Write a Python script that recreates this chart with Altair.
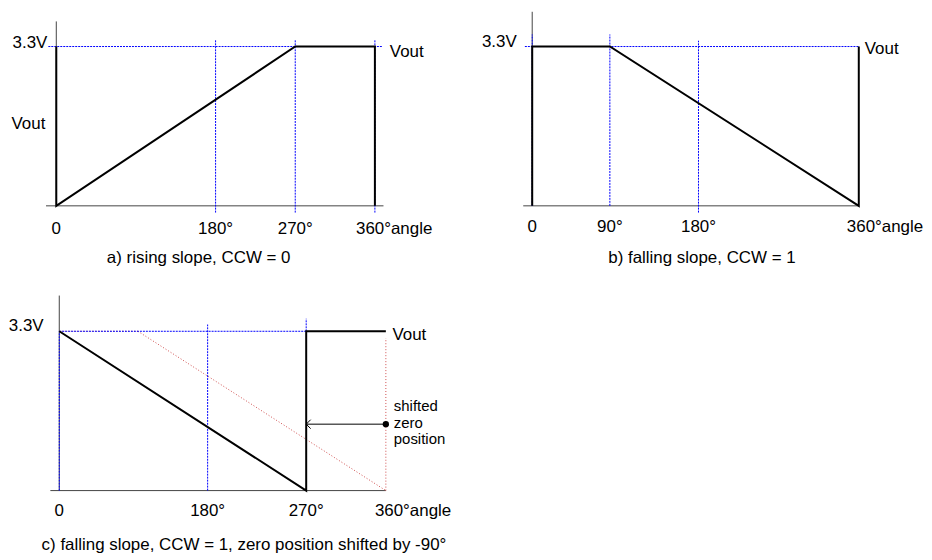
import altair as alt
import pandas as pd

FONT = "Liberation Sans"
V_MAX = 3.3
BLUE = "#0000ff"
RED = "#d05050"
AXIS_C = "#444444"

# ---------------- panel a: rising slope ----------------
A_OUT_DEG = [0, 0, 270, 360, 360]
A_OUT_V = [3.3, 0, 3.3, 3.3, 0]
A_BLUE_X1 = [-9, 180, 270, 360]
A_BLUE_X2 = [368, 180, 270, 360]
A_BLUE_Y1 = [3.3, -0.14, -0.14, -0.14]
A_BLUE_Y2 = [3.3, 3.44, 3.44, 3.44]
A_AXIS_X1 = [-11.6, 0]
A_AXIS_X2 = [369.7, 0]
A_AXIS_Y1 = [0, 0]
A_AXIS_Y2 = [0, 3.82]
A_TICKS = [0, 180, 270]
A_TICK_LABELS = ["0", "180°", "270°"]
A_VOUT_SIDE_V = 1.59
A_CAPTION = "a) rising slope, CCW = 0"

# ---------------- panel b: falling slope ----------------
B_OUT_DEG = [0, 0, 90, 360, 360]
B_OUT_V = [0, 3.3, 3.3, 0, 3.3]
B_BLUE_X1 = [-8.5, 0, 90, 180]
B_BLUE_X2 = [360, 0, 90, 180]
B_BLUE_Y1 = [3.3, 0, 0, -0.14]
B_BLUE_Y2 = [3.3, 3.55, 3.55, 3.42]
B_AXIS_X1 = [-10.4, 0]
B_AXIS_X2 = [360, 0]
B_AXIS_Y1 = [0, 0]
B_AXIS_Y2 = [0, 4.02]
B_TICKS = [0, 90, 180]
B_TICK_LABELS = ["0", "90°", "180°"]
B_CAPTION = "b) falling slope, CCW = 1"

# ---------------- panel c: falling slope, shifted zero ----------------
C_OUT_DEG = [0, 270, 270, 360]
C_OUT_V = [3.3, 0, 3.3, 3.3]
C_BLUE_X1 = [0, 0, 180, 270]
C_BLUE_X2 = [0, 270, 180, 270]
C_BLUE_Y1 = [0, 3.3, 0, 3.3]
C_BLUE_Y2 = [3.3, 3.3, 3.44, 3.56]
C_RED_X1 = [0, 90, 360]
C_RED_X2 = [90, 360, 360]
C_RED_Y1 = [3.3, 3.3, 0]
C_RED_Y2 = [3.3, 0, 3.16]
C_AXIS_X1 = [-10.2, 0]
C_AXIS_X2 = [360, 0]
C_AXIS_Y1 = [0, 0]
C_AXIS_Y2 = [0, 4.04]
C_TICKS = [0, 180, 270]
C_TICK_LABELS = ["0", "180°", "270°"]
C_ARROW_FROM = 360
C_ARROW_TO = 270
C_ARROW_V = 1.376
C_NOTE = "shifted\nzero\nposition"
C_CAPTION = "c) falling slope, CCW = 1, zero position shifted by -90°"

END_LABEL = "360°angle"
END_DEG = 360


def make_scales(xdom, xrng, yrng):
    xs = alt.Scale(domain=xdom, range=xrng, nice=False, zero=False)
    ys = alt.Scale(domain=[0, V_MAX], range=yrng, nice=False, zero=False)
    return xs, ys


def seg_layer(x1, x2, y1, y2, xs, ys, color, width=1, dash=None):
    df = pd.DataFrame({"x": x1, "x2": x2, "y": y1, "y2": y2})
    kw = dict(color=color, strokeWidth=width, opacity=1)
    if dash:
        kw["strokeDash"] = dash
    return alt.Chart(df).mark_rule(**kw).encode(
        x=alt.X("x:Q", scale=xs, axis=None),
        x2="x2:Q",
        y=alt.Y("y:Q", scale=ys, axis=None),
        y2="y2:Q",
    )


def path_layer(xv, yv, xs, ys):
    df = pd.DataFrame({"x": xv, "y": yv, "i": list(range(len(xv)))})
    return alt.Chart(df).mark_line(color="black", strokeWidth=2).encode(
        x=alt.X("x:Q", scale=xs, axis=None),
        y=alt.Y("y:Q", scale=ys, axis=None),
        order="i:Q",
    )


def text_layer(texts, xv, yv, xs, ys, dx=0, dy=0, align="center",
               baseline="alphabetic", size=17, **extra):
    df = pd.DataFrame({"x": xv, "y": yv, "t": texts})
    return alt.Chart(df).mark_text(
        font=FONT, fontSize=size, color="black", align=align,
        baseline=baseline, dx=dx, dy=dy, **extra
    ).encode(
        x=alt.X("x:Q", scale=xs, axis=None),
        y=alt.Y("y:Q", scale=ys, axis=None),
        text="t:N",
    )


def caption_layer(text, px, py):
    df = pd.DataFrame({"t": [text]})
    return alt.Chart(df).mark_text(
        font=FONT, fontSize=17, color="black", align="center", baseline="middle"
    ).encode(x=alt.value(px), y=alt.value(py), text="t:N")


W = 450
H_TOP = 272
H_BOT = 264
BLUE_DASH = [2, 1]
RED_DASH = [1, 2]

# ---- panel a
xa, ya = make_scales([0, 360], [48.5, 368.5], [197.5, 37.5])
panel_a = alt.layer(
    seg_layer(A_AXIS_X1, A_AXIS_X2, A_AXIS_Y1, A_AXIS_Y2, xa, ya, AXIS_C),
    seg_layer(A_BLUE_X1, A_BLUE_X2, A_BLUE_Y1, A_BLUE_Y2, xa, ya, BLUE, 1, BLUE_DASH),
    path_layer(A_OUT_DEG, A_OUT_V, xa, ya),
    text_layer(["3.3V"], [0], [V_MAX], xa, ya, dx=-9, dy=1, align="right"),
    text_layer(["Vout"], [0], [A_VOUT_SIDE_V], xa, ya, dx=-11, align="right"),
    text_layer(["Vout"], [END_DEG], [V_MAX], xa, ya, dx=15, dy=11, align="left"),
    text_layer(A_TICK_LABELS, A_TICKS, [0] * len(A_TICKS), xa, ya, dy=23, baseline="middle"),
    text_layer([END_LABEL], [END_DEG], [0], xa, ya, dx=-19, dy=23, align="left", baseline="middle"),
    caption_layer(A_CAPTION, 191.5, 250),
).properties(width=W, height=H_TOP)

# ---- panel b
xb, yb = make_scales([0, 90, 180, 360], [68.5, 146.5, 235.5, 396.5], [197.5, 37.5])
panel_b = alt.layer(
    seg_layer(B_AXIS_X1, B_AXIS_X2, B_AXIS_Y1, B_AXIS_Y2, xb, yb, AXIS_C),
    seg_layer(B_BLUE_X1, B_BLUE_X2, B_BLUE_Y1, B_BLUE_Y2, xb, yb, BLUE, 1, BLUE_DASH),
    path_layer(B_OUT_DEG, B_OUT_V, xb, yb),
    text_layer(["3.3V"], [0], [V_MAX], xb, yb, dx=-15.6, align="right"),
    text_layer(["Vout"], [END_DEG], [V_MAX], xb, yb, dx=6, dy=8, align="left"),
    text_layer(B_TICK_LABELS, B_TICKS, [0] * len(B_TICKS), xb, yb, dy=21, baseline="middle"),
    text_layer([END_LABEL], [END_DEG], [0], xb, yb, dx=-12, dy=21, align="left", baseline="middle"),
    caption_layer(B_CAPTION, 239, 250),
).properties(width=W, height=H_TOP)

# ---- panel c
xc, yc = make_scales([0, 90, 180, 270, 360], [51.5, 130.5, 200.5, 299.5, 379.5], [203.5, 43.5])
arrow_df = pd.DataFrame({"x": [C_ARROW_FROM], "x2": [C_ARROW_TO], "y": [C_ARROW_V]})
arrow_line = alt.Chart(arrow_df).mark_rule(color="black", strokeWidth=1).encode(
    x=alt.X("x:Q", scale=xc, axis=None), x2="x2:Q",
    y=alt.Y("y:Q", scale=yc, axis=None),
)
head_df = pd.DataFrame({"x": [C_ARROW_TO], "y": [C_ARROW_V]})
arrow_head = alt.Chart(head_df).mark_point(
    shape="M1,-1L0,0L1,1", filled=False, stroke="black", strokeWidth=1, size=81, opacity=1
).encode(x=alt.X("x:Q", scale=xc, axis=None), y=alt.Y("y:Q", scale=yc, axis=None))
dot_df = pd.DataFrame({"x": [C_ARROW_FROM], "y": [C_ARROW_V]})
arrow_dot = alt.Chart(dot_df).mark_circle(color="black", size=40, opacity=1).encode(
    x=alt.X("x:Q", scale=xc, axis=None), y=alt.Y("y:Q", scale=yc, axis=None)
)

panel_c = alt.layer(
    seg_layer(C_AXIS_X1, C_AXIS_X2, C_AXIS_Y1, C_AXIS_Y2, xc, yc, AXIS_C),
    seg_layer(C_RED_X1, C_RED_X2, C_RED_Y1, C_RED_Y2, xc, yc, RED, 1, RED_DASH),
    seg_layer(C_BLUE_X1, C_BLUE_X2, C_BLUE_Y1, C_BLUE_Y2, xc, yc, BLUE, 1, BLUE_DASH),
    path_layer(C_OUT_DEG, C_OUT_V, xc, yc),
    arrow_line,
    arrow_head,
    arrow_dot,
    text_layer(["3.3V"], [0], [V_MAX], xc, yc, dx=-15.7, align="right"),
    text_layer(["Vout"], [END_DEG], [V_MAX], xc, yc, dx=6.6, dy=8.3, align="left"),
    text_layer([C_NOTE], [C_ARROW_FROM], [C_ARROW_V], xc, yc, dx=8, dy=-13.3,
               align="left", size=15, lineBreak="\n", lineHeight=16.7),
    text_layer(C_TICK_LABELS, C_TICKS, [0] * len(C_TICKS), xc, yc, dy=20.5, baseline="middle"),
    text_layer([END_LABEL], [END_DEG], [0], xc, yc, dx=-11, dy=20.5, align="left", baseline="middle"),
    caption_layer(C_CAPTION, 237, 258),
).properties(width=W, height=H_BOT)

chart = alt.concat(
    panel_a, panel_b, panel_c, columns=2, spacing=8, bounds="flush"
).properties(padding=0).configure_view(stroke=None)

chart.save("out.html", embed_options={"renderer": "svg", "actions": False})
